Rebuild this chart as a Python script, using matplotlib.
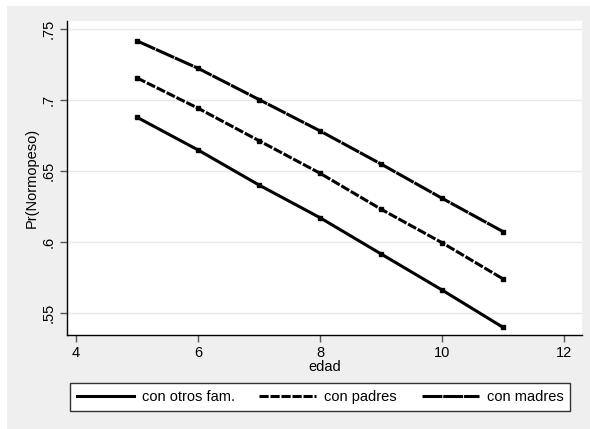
import matplotlib.pyplot as plt
from matplotlib.patches import Rectangle

plt.rcParams['font.family'] = ['Liberation Sans', 'DejaVu Sans']

# valores
edad = [5, 6, 7, 8, 9, 10, 11]
otros_fam = [0.688, 0.665, 0.6403, 0.6173, 0.5918, 0.5664, 0.5401]
padres = [0.7157, 0.6944, 0.6715, 0.6486, 0.6233, 0.5997, 0.5742]
madres = [0.7418, 0.7225, 0.7005, 0.6784, 0.6551, 0.631, 0.6075]

yticks = [0.55, 0.6, 0.65, 0.7, 0.75]
ytick_labels = ['.55', '.6', '.65', '.7', '.75']
xticks = [4, 6, 8, 10, 12]

W, H = 590, 429
fig = plt.figure(figsize=(W / 100, H / 100), dpi=100, facecolor='white')
# graph region gris
fig.patches.append(Rectangle((7 / W, 0), 1 - 7 / W, 1 - 6 / H, transform=fig.transFigure,
                             facecolor='#efefef', edgecolor='none', zorder=-10))

ax = fig.add_axes([67 / W, (H - 335) / H, (582 - 67) / W, (335 - 21) / H])
ax.set_facecolor('white')

lw = 2.2
ax.plot(edad, otros_fam, color='black', lw=lw, marker='s', ms=3.2, label='con otros fam.')
ax.plot(edad, padres, color='black', lw=lw, marker='s', ms=3.2, dashes=(3.0, 0.6), label='con padres')
ax.plot(edad, madres, color='black', lw=lw, marker='s', ms=3.2, dashes=(6.5, 0.3), label='con madres')

ax.set_xlim(3.852, 12.295)
ax.set_ylim(0.5347, 0.7558)
ax.set_xticks(xticks)
ax.set_yticks(yticks)
ax.set_yticklabels(ytick_labels, rotation=90, va='center')
ax.grid(axis='y', color='#e8e8e8', lw=1)
ax.set_axisbelow(True)

for s in ['top', 'right']:
    ax.spines[s].set_visible(False)
for s in ['left', 'bottom']:
    ax.spines[s].set_color('black')
    ax.spines[s].set_linewidth(1)
ax.tick_params(direction='out', length=5, width=1, color='#555555', labelsize=10.5, pad=3)

ax.set_xlabel('edad', fontsize=10.5, labelpad=0)
ax.set_ylabel('Pr(Normopeso)', fontsize=10.5, labelpad=2)

leg = fig.legend(loc='center', bbox_to_anchor=(320 / W, 1 - 397 / H), ncol=3, fontsize=10.5,
                 frameon=True, fancybox=False, edgecolor='#333333', framealpha=1,
                 handlelength=3.9, columnspacing=1.7, borderpad=0.45, handletextpad=0.55)
leg.get_frame().set_linewidth(1)
for h in leg.legend_handles:
    h.set_marker('')

fig.savefig('out.png', dpi=100, facecolor=fig.get_facecolor())
